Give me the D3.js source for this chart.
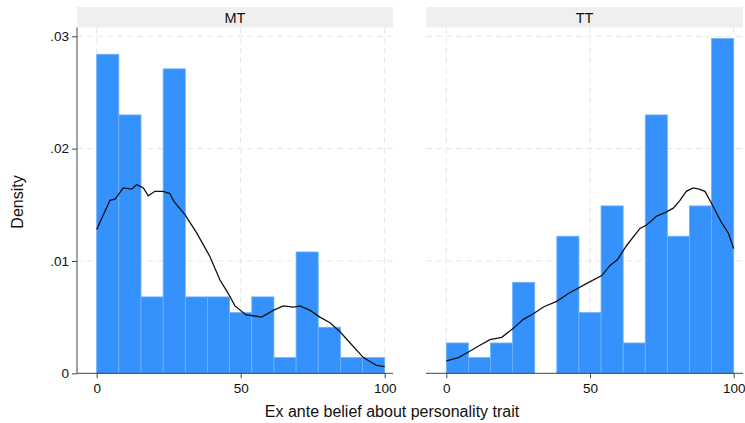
<!DOCTYPE html>
<html>
<head>
<meta charset="utf-8">
<script src="https://cdn.jsdelivr.net/npm/d3@7"></script>
<style>
  body { margin: 0; background: #fff; }
  svg { display: block; font-family: "Liberation Sans", Arial, sans-serif; }
</style>
</head>
<body>
<div id="container"></div>
<script>
// histogram: 13 bins over 0..100, densities
var panels = ["MT", "TT"];
var binEdges = [0, 7.69, 15.38, 23.08, 30.77, 38.46, 46.15, 53.85, 61.54, 69.23, 76.92, 84.62, 92.31, 100];
var mtDensity = [0.0284, 0.0230, 0.0068, 0.0271, 0.0068, 0.0068, 0.0054, 0.0068, 0.0014, 0.0108, 0.0041, 0.0014, 0.0014];
var ttDensity = [0.0027, 0.0014, 0.0027, 0.0081, 0, 0.0122, 0.0054, 0.0149, 0.0027, 0.0230, 0.0122, 0.0149, 0.0298];

// kernel density curves (x, density)
var mtKdeX = [0, 4.6, 6.4, 9.2, 12.2, 13.9, 16.2, 17.9, 20.2, 23.1, 25.4, 26.6, 27.8, 30.7, 34.7, 39.3, 42.8, 45.7, 48, 51.9, 54.9, 57.3, 61.3, 64.8, 68.3, 70.6, 74.1, 77.5, 81, 84.5, 88, 92.6, 97.2, 100];
var mtKdeY = [0.0128, 0.0154, 0.0155, 0.0165, 0.0164, 0.0168, 0.0165, 0.0158, 0.0162, 0.0162, 0.0160, 0.0154, 0.0150, 0.0141, 0.0125, 0.0104, 0.0083, 0.0071, 0.0060, 0.0052, 0.0051, 0.0050, 0.0056, 0.0060, 0.0059, 0.0060, 0.0056, 0.0050, 0.0045, 0.0037, 0.0027, 0.0014, 0.0007, 0.0006];
var ttKdeX = [0, 4.2, 7.7, 11.7, 15.2, 19.3, 23.3, 26.8, 30.3, 33.8, 38.4, 42.5, 48.9, 54.1, 57, 59.5, 62.8, 67.4, 69.7, 73.2, 76.1, 79, 81.3, 83.5, 85.9, 88, 90, 91.7, 95.8, 98.1, 100];
var ttKdeY = [0.0011, 0.0014, 0.0019, 0.0025, 0.0030, 0.0032, 0.0040, 0.0048, 0.0053, 0.0059, 0.0064, 0.0071, 0.0080, 0.0087, 0.0096, 0.0101, 0.0114, 0.0129, 0.0132, 0.0140, 0.0143, 0.0147, 0.0154, 0.0162, 0.0165, 0.0164, 0.0162, 0.0154, 0.0134, 0.0125, 0.0111];

var xTicks = [0, 50, 100];
var yTicks = [0, 0.01, 0.02, 0.03];
var xTitle = "Ex ante belief about personality trait";
var yTitle = "Density";

var W = 745, H = 423;
var svg = d3.select("div#container")
    .append("svg")
    .attr("width", W)
    .attr("height", H);

var y = d3.scaleLinear()
    .domain([0, 0.03])
    .range([373.3, 36.3]);

var plotTop = 27.5, plotBottom = 373.3;
var panelBox = [
    { left: 77, right: 393, x0: 96.7, x1: 384.7 },
    { left: 426, right: 743, x0: 446.3, x1: 733.7 }
];
var hists = [mtDensity, ttDensity];
var kdes = [
    mtKdeX.map(function (d, i) { return [d, mtKdeY[i]]; }),
    ttKdeX.map(function (d, i) { return [d, ttKdeY[i]]; })
];

var fmt = function (d) { return d === 0 ? "0" : d3.format(".2f")(d).replace(/^0/, ""); };

panels.forEach(function (name, p) {
    var b = panelBox[p];
    var x = d3.scaleLinear().domain([0, 100]).range([b.x0, b.x1]);
    var g = svg.append("g");

    // header strip
    g.append("rect")
        .attr("x", b.left).attr("y", 7)
        .attr("width", b.right - b.left).attr("height", plotTop - 7)
        .attr("fill", "#efefef");
    g.append("text")
        .attr("x", (b.left + b.right) / 2).attr("y", 22.5)
        .attr("text-anchor", "middle")
        .attr("font-size", 14.5)
        .attr("fill", "#111")
        .text(name);

    // gridlines
    g.selectAll(".hgrid")
        .data(yTicks.filter(function (d) { return d > 0; }))
        .enter().append("line")
        .attr("x1", b.left).attr("x2", b.right)
        .attr("y1", function (d) { return y(d); })
        .attr("y2", function (d) { return y(d); })
        .attr("stroke", "#e6e6e6").attr("stroke-width", 1)
        .attr("stroke-dasharray", "6,4");
    g.selectAll(".vgrid")
        .data(xTicks)
        .enter().append("line")
        .attr("x1", function (d) { return x(d); })
        .attr("x2", function (d) { return x(d); })
        .attr("y1", plotTop).attr("y2", plotBottom)
        .attr("stroke", "#e6e6e6").attr("stroke-width", 1)
        .attr("stroke-dasharray", "6,4");

    // bars
    var bins = hists[p].map(function (d, i) { return { x0: binEdges[i], x1: binEdges[i + 1], v: d }; })
        .filter(function (d) { return d.v > 0; });
    g.selectAll(".bar")
        .data(bins)
        .enter().append("rect")
        .attr("x", function (d) { return x(d.x0); })
        .attr("y", function (d) { return y(d.v); })
        .attr("width", function (d) { return x(d.x1) - x(d.x0); })
        .attr("height", function (d) { return y(0) - y(d.v); })
        .attr("fill", "#3592fd")
        .attr("stroke", "#6fb0fb")
        .attr("stroke-width", 0.8);

    // density curve
    var line = d3.line()
        .x(function (d) { return x(d[0]); })
        .y(function (d) { return y(d[1]); });
    g.append("path")
        .datum(kdes[p])
        .attr("d", line)
        .attr("fill", "none")
        .attr("stroke", "#111")
        .attr("stroke-width", 1.3);

    // x axis
    var xa = g.append("g")
        .attr("transform", "translate(0," + plotBottom + ")")
        .call(d3.axisBottom(x).tickValues(xTicks).tickSize(5).tickSizeOuter(0).tickPadding(5));
    xa.select(".domain").remove();
    xa.append("line")
        .attr("x1", b.left).attr("x2", b.right)
        .attr("stroke", "#444");
    xa.selectAll(".tick line").attr("stroke", "#444");
    xa.selectAll("text")
        .attr("font-size", 13.5)
        .attr("font-family", "Liberation Sans, Arial, sans-serif")
        .attr("fill", "#111");

    // y axis (left panel only)
    if (p === 0) {
        var ya = g.append("g")
            .attr("transform", "translate(" + b.left + ",0)")
            .call(d3.axisLeft(y).tickValues(yTicks).tickFormat(fmt).tickSize(5).tickSizeOuter(0).tickPadding(3));
        ya.select(".domain").remove();
        ya.append("line")
            .attr("y1", plotTop).attr("y2", plotBottom)
            .attr("stroke", "#444");
        ya.selectAll(".tick line").attr("stroke", "#444");
        ya.selectAll("text")
            .attr("font-size", 13.5)
            .attr("font-family", "Liberation Sans, Arial, sans-serif")
            .attr("fill", "#111");
    }
});

svg.append("text")
    .attr("x", 392).attr("y", 417)
    .attr("text-anchor", "middle")
    .attr("font-size", 16)
    .attr("fill", "#111")
    .text(xTitle);

svg.append("text")
    .attr("transform", "translate(23,202) rotate(-90)")
    .attr("text-anchor", "middle")
    .attr("font-size", 16)
    .attr("fill", "#111")
    .text(yTitle);
</script>
</body>
</html>
